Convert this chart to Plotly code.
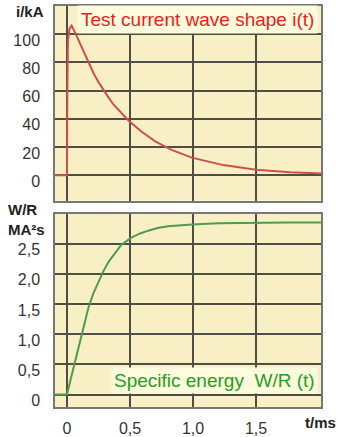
import plotly.graph_objects as go

# Test current wave shape i(t)
t_current = [-0.095, 0.0, 0.003, 0.008, 0.02, 0.037, 0.06, 0.09, 0.13, 0.17, 0.21, 0.25, 0.29,
             0.33, 0.37, 0.41, 0.45, 0.49, 0.59, 0.70, 0.83, 0.99, 1.24, 1.50, 1.77, 2.02]
i_current = [0, 0, 60, 95, 104, 106, 102, 96, 88, 80, 72.5, 66, 60,
             55, 50, 46, 42, 38.7, 31, 24, 18, 12.5, 7.2, 4.0, 2.2, 1.3]

# Specific energy W/R (t)
t_energy = [-0.095, 0.0, 0.03, 0.063, 0.117, 0.17, 0.21, 0.25, 0.29, 0.33, 0.38, 0.43,
            0.51, 0.58, 0.65, 0.72, 0.80, 0.90, 0.99, 1.20, 1.50, 1.75, 2.02]
w_energy = [0, 0, 0.26, 0.53, 1.02, 1.44, 1.68, 1.88, 2.05, 2.2, 2.35, 2.48,
            2.6, 2.67, 2.72, 2.76, 2.79, 2.81, 2.82, 2.84, 2.85, 2.85, 2.85]

x_ticks = [0, 0.5, 1.0, 1.5]
x_ticklabels = ["0", "0,5", "1,0", "1,5"]
i_ticks = [0, 20, 40, 60, 80, 100]
w_ticks = [0, 0.5, 1.0, 1.5, 2.0, 2.5]
w_ticklabels = ["0", "0,5", "1,0", "1,5", "2,0", "2,5"]

W, H = 337, 437
BG = "#f8f0c4"
GRID = "#4e4e44"
TICKFONT = dict(family="Liberation Sans, Arial", size=16, color="#333333")

fig = go.Figure()
fig.add_trace(go.Scatter(x=t_current, y=i_current, mode="lines",
                         line=dict(color="#cc5050", width=2), xaxis="x", yaxis="y",
                         showlegend=False, hoverinfo="skip"))
fig.add_trace(go.Scatter(x=t_energy, y=w_energy, mode="lines",
                         line=dict(color="#4f9a4f", width=2), xaxis="x2", yaxis="y2",
                         showlegend=False, hoverinfo="skip"))

xdom = [55 / W, 321 / W]
common_x = dict(range=[-0.095, 2.015], tickvals=x_ticks, showgrid=True, gridcolor=GRID,
                gridwidth=1.5, zeroline=False, showline=True, linecolor="#777777",
                linewidth=1.5, mirror=True, fixedrange=True)
common_y = dict(showgrid=True, gridcolor=GRID, gridwidth=1.5, zeroline=False,
                showline=True, linecolor="#777777", linewidth=1.5, mirror=True,
                ticks="outside", ticklen=0, ticklabelstandoff=10, ticklabelshift=6,
                tickfont=TICKFONT, fixedrange=True)

fig.update_layout(
    width=W, height=H, margin=dict(l=0, r=0, t=0, b=0),
    paper_bgcolor="white", plot_bgcolor=BG,
    xaxis=dict(domain=xdom, anchor="y", showticklabels=False, **common_x),
    yaxis=dict(domain=[1 - 203 / H, 1 - 6 / H], range=[-18, 120], tickvals=i_ticks,
               anchor="x", **common_y),
    xaxis2=dict(domain=xdom, anchor="y2", ticktext=x_ticklabels, showticklabels=True,
                ticks="outside", ticklen=0, ticklabelstandoff=6, tickfont=TICKFONT,
                **common_x),
    yaxis2=dict(domain=[1 - 412 / H, 1 - 216 / H], range=[-0.21, 3.0], tickvals=w_ticks,
                ticktext=w_ticklabels, anchor="x2", **common_y),
)

ann_font_bold = dict(family="Liberation Sans, Arial", size=15, color="#222222")
fig.add_annotation(text="<b>i/kA</b>", xref="paper", yref="paper", x=30 / W, y=1 - 12 / H,
                   showarrow=False, font=ann_font_bold, xanchor="center", yanchor="middle")
fig.add_annotation(text="<b>W/R</b>", xref="paper", yref="paper", x=22 / W, y=1 - 212 / H,
                   showarrow=False, font=ann_font_bold, xanchor="center", yanchor="middle")
fig.add_annotation(text="<b>MA²s</b>", xref="paper", yref="paper", x=26 / W, y=1 - 232 / H,
                   showarrow=False, font=ann_font_bold, xanchor="center", yanchor="middle")
fig.add_annotation(text="<b>t/ms</b>", xref="paper", yref="paper", x=320 / W, y=1 - 427 / H,
                   showarrow=False, font=ann_font_bold, xanchor="center", yanchor="middle")

fig.add_annotation(text="Test current wave shape i(t)", xref="paper", yref="paper",
                   x=318 / W, y=1 - 20 / H, xanchor="right", yanchor="middle",
                   showarrow=False, bgcolor="#fffbdc", borderpad=3,
                   font=dict(family="Liberation Sans, Arial", size=19, color="#ee1c1c"))
fig.add_annotation(text="Specific energy  W/R (t)", xref="paper", yref="paper",
                   x=318 / W, y=1 - 385 / H, xanchor="right", yanchor="middle",
                   showarrow=False, bgcolor="#fffbdc", borderpad=2,
                   font=dict(family="Liberation Sans, Arial", size=19, color="#22a022"))

fig.write_html("out.html")
